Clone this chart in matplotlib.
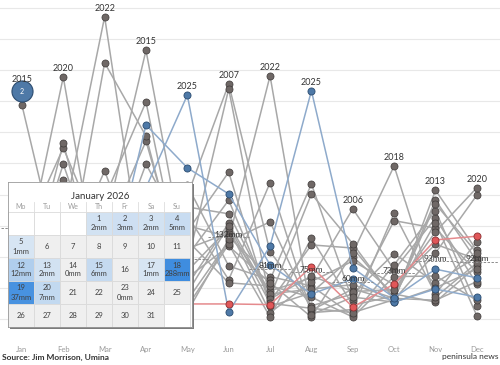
import datetime

import matplotlib
matplotlib.use('Agg')
import matplotlib.pyplot as plt
import numpy as np
from matplotlib.colors import LinearSegmentedColormap
from matplotlib.patches import Rectangle

plt.rcParams['font.family'] = ['Lato', 'DejaVu Sans']

months = ['Jan', 'Feb', 'Mar', 'Apr', 'May', 'Jun', 'Jul', 'Aug', 'Sep', 'Oct', 'Nov', 'Dec']

# ---- Monthly rainfall (mm), Jan..Dec
rain_2006 = [151, 121, 99, 163, 113, 138, 45, 66, 177, 79, 162, 56]
rain_2007 = [66, 205, 172, 92, 198, 378, 108, 21, 40, 105, 58, 100]
rain_2008 = [205, 88, 238, 61, 89, 370, 28, 119, 114, 34, 191, 93]
rain_2009 = [41, 249, 56, 128, 166, 63, 219, 10, 15, 170, 40, 124]
rain_2010 = [182, 30, 133, 286, 54, 154, 35, 201, 121, 31, 106, 199]
rain_2011 = [96, 176, 19, 212, 150, 132, 68, 53, 6, 87, 174, 21]
rain_2012 = [127, 275, 117, 34, 141, 236, 20, 42, 100, 40, 27, 85]
rain_2013 = [33, 72, 195, 349, 30, 125, 156, 14, 48, 29, 207, 110]
rain_2014 = [168, 15, 43, 110, 215, 85, 63, 217, 29, 158, 146, 75]
rain_2015 = [344, 64, 150, 432, 77, 146, 10, 60, 93, 55, 120, 96]
rain_2016 = [118, 140, 70, 249, 126, 58, 53, 35, 3, 68, 69, 30]
rain_2017 = [22, 283, 31, 20, 180, 169, 40, 48, 55, 33, 30, 60]
rain_2018 = [88, 103, 210, 147, 66, 117, 58, 3, 106, 246, 35, 90]
rain_2019 = [104, 224, 85, 190, 20, 120, 3, 130, 22, 37, 155, 5]
rain_2020 = [75, 389, 9, 76, 101, 191, 32, 69, 44, 47, 140, 211]
rain_2021 = [52, 45, 412, 294, 42, 150, 25, 17, 10, 31, 185, 106]
rain_2022 = [143, 160, 486, 47, 11, 128, 391, 7, 35, 27, 50, 80]
rain_2023 = [70, 150, 35, 312, 243, 201, 87, 40, 64, 27, 48, 35]
rain_2024 = [95, 140, 60, 45, 24, 24, 23, 84, 19, 56, 127, 133]
rain_2025 = [120, 60, 150, 211, 360, 11, 117, 367, 82, 34, 80, 66]

# ---- Monthly averages shown as dashed markers (mm)
avg_mm = [146, 120, 150, 125, 96, 132, 81, 75, 60, 73, 93, 92]
first_avg_label = 5  # Jan-May labels sit under the calendar

# ---- January 2026 daily rainfall
jan_days = [1, 2, 3, 4, 5, 12, 13, 14, 15, 17, 18, 19, 20, 23]
jan_mm = [2, 3, 2, 5, 1, 12, 2, 0, 6, 1, 288, 37, 7, 0]
jan_2026_rank = 2

years = {
    2006: rain_2006, 2007: rain_2007, 2008: rain_2008, 2009: rain_2009,
    2010: rain_2010, 2011: rain_2011, 2012: rain_2012, 2013: rain_2013,
    2014: rain_2014, 2015: rain_2015, 2016: rain_2016, 2017: rain_2017,
    2018: rain_2018, 2019: rain_2019, 2020: rain_2020, 2021: rain_2021,
    2022: rain_2022, 2023: rain_2023, 2024: rain_2024, 2025: rain_2025,
}
highlight = {2023: ('#8eaacb', '#4e79a7', '#2c4c70'),
             2024: ('#e58a8d', '#e15759', '#8c2f31'),
             2025: ('#8eaacb', '#4e79a7', '#2c4c70')}

fig = plt.figure(figsize=(5, 3.65), dpi=100)
ax = fig.add_axes([0, 25 / 365, 1, 340 / 365])
ax.set_zorder(0)
x = np.arange(12)

# ---- Year lines
for yr, vals in years.items():
    if yr in highlight:
        continue
    ax.plot(x, vals, color='#a8a8a8', lw=1.1, zorder=2)
    ax.scatter(x, vals, s=26, color='#6f6866', edgecolors='#3e3a39', linewidths=0.5, zorder=3)
for yr, (lc, fc, ec) in highlight.items():
    vals = years[yr]
    ax.plot(x, vals, color=lc, lw=1.1, zorder=4)
    ax.scatter(x, vals, s=26, color=fc, edgecolors=ec, linewidths=0.6, zorder=5)

# ---- January 2026 to date
jan_total = sum(jan_mm)
ax.scatter([0], [jan_total], s=230, color='#4e79a7', edgecolors='#2c4c70', linewidths=0.8, zorder=6)
ax.text(0, jan_total, str(jan_2026_rank), color='white', fontsize=5, ha='center', va='center', zorder=7)

# ---- Label the wettest year of each month
data = np.array(list(years.values()))
year_list = list(years.keys())
for m in range(12):
    i = int(np.argmax(data[:, m]))
    top = data[i, m]
    off = 3
    if m == 0 and jan_total > top:
        top = jan_total
        off = 5
    ax.annotate(str(year_list[i]), (m, top), xytext=(0, off), textcoords='offset points',
                ha='center', va='bottom', fontsize=6.5, color='#333333', zorder=8)

# ---- Monthly averages
ax.hlines(avg_mm, x - 0.5, x + 0.5, colors='#8c8c8c', linestyles=(0, (2.5, 1.5)), lw=0.7, zorder=6)
for m in range(first_avg_label, 12):
    ax.annotate('{}mm'.format(avg_mm[m]), (m, avg_mm[m]), xytext=(0, 2), textcoords='offset points',
                ha='center', va='center', fontsize=6, color='#333333', zorder=8)

ax.set_xlim(-0.53, 11.56)
ax.set_ylim(-34, 513)
ax.set_xticks(x)
ax.set_xticklabels(months, color='#9a9a9a', fontsize=5.5)
ax.set_yticks(np.arange(0, 501, 50))
ax.set_yticklabels([])
ax.tick_params(length=0, pad=4)
ax.yaxis.grid(True, color='#e8e8e8', lw=0.8)
ax.set_axisbelow(True)
for s in ax.spines.values():
    s.set_visible(False)

# ---- Calendar inset
left, top, w, h = 8, 182, 184, 145
shadow = Rectangle(((left + 2) / 500, 1 - (top + h + 2) / 365), w / 500, h / 365,
                   transform=fig.transFigure, facecolor='#7c7c7c', edgecolor='none', zorder=1)
fig.patches.append(shadow)
cal = fig.add_axes([left / 500, 1 - (top + h) / 365, w / 500, h / 365])
cal.set_zorder(2)
cal.set_xlim(0, w)
cal.set_ylim(h, 0)
cal.set_xticks([])
cal.set_yticks([])
for s in cal.spines.values():
    s.set_color('#9a9a9a')
    s.set_linewidth(0.6)

cmap = LinearSegmentedColormap.from_list('rain', ['#e4ecf5', '#bcd5ef', '#3f8ddf'])
cell_w, cell_h, grid_top = 26, 23, 30
cal.text(w / 2, 15, 'January 2026', ha='center', va='center', fontsize=7, color='#333333')
for c, d in enumerate(['Mo', 'Tu', 'We', 'Th', 'Fr', 'Sa', 'Su']):
    cal.text(c * cell_w + cell_w / 2, 25, d, ha='center', va='center', fontsize=5, color='#9a9a9a')
    if c > 0:
        cal.plot([c * cell_w, c * cell_w], [20, grid_top], color='#dddddd', lw=0.6)

first = datetime.date(2026, 1, 1).weekday()
rain_by_day = dict(zip(jan_days, jan_mm))
for slot in range(35):
    col, row = slot % 7, slot // 7
    day = slot - first + 1
    x0, y0 = col * cell_w, grid_top + row * cell_h
    if 1 <= day <= 31:
        mm = rain_by_day.get(day)
        if mm:
            face = cmap(min(1.0, np.sqrt(mm / 40.0)))
        else:
            face = '#efefef'
    else:
        face = 'white'
    cal.add_patch(Rectangle((x0, y0), cell_w, cell_h, facecolor=face, edgecolor='#dadada', lw=0.6))
    if not 1 <= day <= 31:
        continue
    cx, cy = x0 + cell_w / 2, y0 + cell_h / 2
    if mm is None:
        cal.text(cx, cy, str(day), ha='center', va='center', fontsize=5.5, color='#404040')
    else:
        cal.text(cx, cy - 4.5, str(day), ha='center', va='center', fontsize=5.5, color='#404040')
        cal.text(cx, cy + 4.5, '{}mm'.format(mm), ha='center', va='center', fontsize=5.5, color='#404040')

fig.text(2 / 500, 1 - 357 / 365, 'Source: Jim Morrison, Umina', fontsize=6, fontweight='bold',
         color='#333333', va='center')
fig.text(498 / 500, 1 - 357 / 365, 'peninsula news', fontsize=6, color='#333333', ha='right', va='center')

fig.savefig('out.png', dpi=100)
